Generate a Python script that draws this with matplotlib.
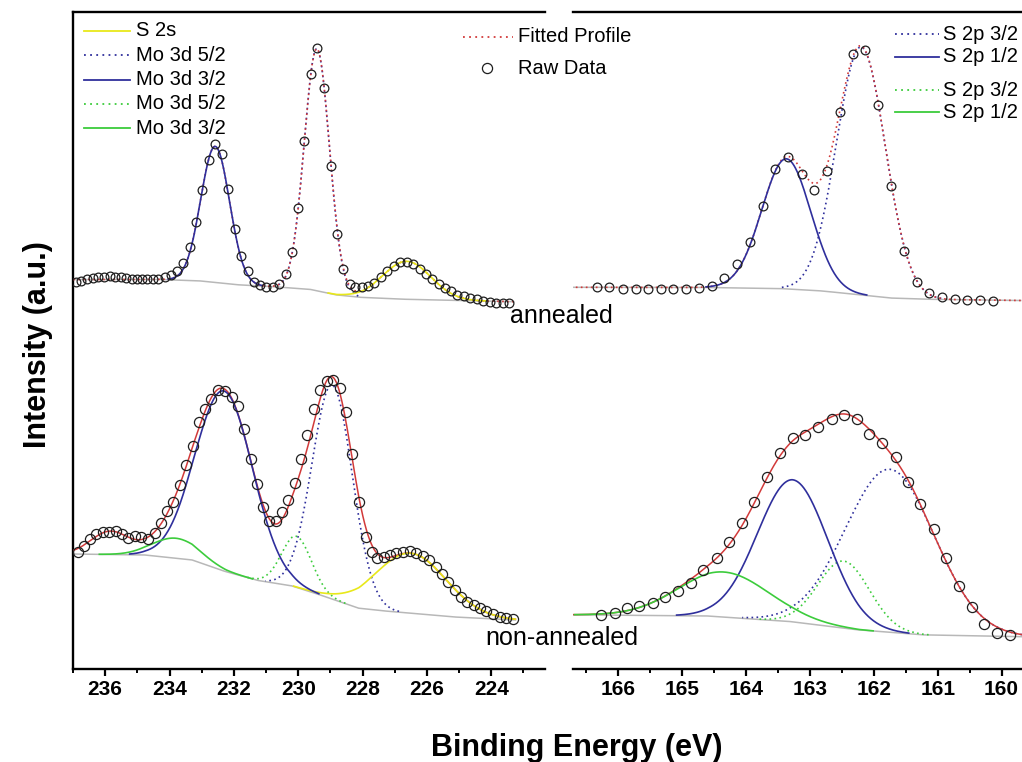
import numpy as np
import matplotlib
matplotlib.use("Agg")
import matplotlib.pyplot as plt
from matplotlib.lines import Line2D
from matplotlib.ticker import MultipleLocator

plt.rcParams['font.family'] = ['Liberation Sans', 'DejaVu Sans']

# ---------------------------------------------------------------- data
# annealed, Mo 3d / S 2s region (raw data)
ann_mo_E = [236.91, 236.74, 236.55, 236.37, 236.21, 236.03, 235.86, 235.69, 235.51, 235.36,
            235.18, 235.00, 234.84, 234.69, 234.51, 234.35, 234.14, 233.95, 233.77, 233.58,
            233.36, 233.17, 232.98, 232.77, 232.58, 232.38, 232.17, 231.97, 231.78, 231.57,
            231.36, 231.18, 230.99, 230.79, 230.60, 230.39, 230.18, 230.01, 229.81, 229.60,
            229.41, 229.20, 228.99, 228.80, 228.61, 228.40, 228.23, 228.02, 227.82, 227.63,
            227.43, 227.23, 227.03, 226.83, 226.62, 226.43, 226.23, 226.03, 225.84, 225.63,
            225.45, 225.26, 225.06, 224.86, 224.66, 224.45, 224.25, 224.05, 223.85, 223.64,
            223.44]
ann_mo_I = [387.3, 388.3, 389.7, 391.0, 392.0, 392.3, 393.0, 392.3, 392.3, 391.3,
            390.3, 389.7, 389.7, 389.7, 389.7, 390.3, 391.7, 394.3, 398.3, 406.3,
            421.7, 447.0, 479.3, 509.3, 525.0, 515.0, 480.0, 440.3, 413.0, 398.3,
            387.3, 383.7, 382.3, 382.3, 384.7, 394.7, 416.7, 461.3, 527.7, 595.0,
            620.7, 580.7, 502.7, 434.7, 399.7, 385.0, 381.7, 382.3, 383.0, 386.3,
            391.7, 398.3, 403.0, 407.0, 407.3, 405.0, 400.3, 394.7, 389.7, 385.0,
            381.3, 378.3, 374.3, 373.0, 371.0, 369.7, 368.3, 367.0, 366.3, 365.7,
            365.7]
ann_mo_bg_E = [237.0, 234.2, 233.0, 231.8, 230.6, 229.6, 228.8, 228.0, 226.5, 223.3]
ann_mo_bg_I = [389.5, 389.5, 388.0, 384.0, 382.0, 379.5, 374.0, 371.5, 369.5, 367.3]
ann_mo_names = ['S 2s', 'Mo 3d 5/2', 'Mo 3d 3/2']
ann_mo_centers = [226.62, 229.42, 232.58]
ann_mo_heights = [38, 242, 136]
ann_mo_fwhm = [1.75, 0.92, 1.05]

# annealed, S 2p region (raw data)
ann_s_E = [166.34, 166.14, 165.93, 165.73, 165.54, 165.34, 165.14, 164.94, 164.73, 164.54,
           164.34, 164.14, 163.94, 163.73, 163.54, 163.34, 163.13, 162.93, 162.73, 162.53,
           162.33, 162.14, 161.93, 161.73, 161.53, 161.33, 161.14, 160.93, 160.73, 160.54,
           160.33, 160.14]
ann_s_I = [381.7, 381.7, 380.3, 379.7, 379.7, 379.7, 379.7, 380.3, 381.0, 383.0,
           391.3, 404.7, 427.0, 463.0, 500.3, 512.3, 495.0, 479.0, 498.0, 556.7,
           615.0, 619.0, 563.7, 482.7, 417.7, 387.3, 375.7, 371.7, 369.7, 369.0,
           369.0, 368.3]
ann_s_bg_E = [166.7, 164.5, 163.4, 162.8, 162.2, 161.7, 161.0, 159.7]
ann_s_bg_I = [381.7, 381.5, 380.3, 378.0, 374.0, 370.8, 369.5, 368.5]
ann_s_names = ['S 2p 3/2', 'S 2p 1/2']
ann_s_centers = [162.20, 163.37]
ann_s_heights = [248, 130]
ann_s_fwhm = [0.90, 0.90]

# non-annealed, Mo 3d / S 2s region (raw data)
non_mo_E = [236.86, 236.65, 236.47, 236.27, 236.08, 235.88, 235.67, 235.48, 235.28, 235.07,
            234.88, 234.67, 234.46, 234.27, 234.08, 233.89, 233.68, 233.48, 233.28, 233.08,
            232.90, 232.70, 232.48, 232.27, 232.07, 231.86, 231.67, 231.48, 231.28, 231.09,
            230.91, 230.70, 230.51, 230.31, 230.11, 229.90, 229.72, 229.52, 229.31, 229.12,
            228.91, 228.70, 228.51, 228.32, 228.11, 227.90, 227.72, 227.54, 227.34, 227.16,
            226.95, 226.73, 226.54, 226.33, 226.12, 225.94, 225.73, 225.52, 225.34, 225.13,
            224.94, 224.75, 224.54, 224.34, 224.15, 223.94, 223.74, 223.54, 223.33]
non_mo_I = [117.3, 123.0, 129.7, 135.0, 136.7, 137.3, 138.0, 135.0, 130.7, 133.0,
            132.3, 130.0, 135.7, 146.3, 158.0, 167.0, 184.0, 204.3, 223.3, 247.3,
            260.0, 270.0, 279.0, 278.3, 272.3, 263.3, 239.7, 210.3, 184.7, 161.7,
            148.3, 148.3, 156.7, 169.0, 186.0, 209.7, 234.0, 259.7, 279.0, 288.3,
            289.0, 280.7, 257.3, 215.0, 166.7, 132.3, 117.0, 110.7, 112.3, 114.3,
            116.3, 117.0, 117.7, 115.7, 113.0, 109.0, 101.7, 95.0, 87.3, 79.0,
            72.3, 67.0, 63.7, 60.7, 58.0, 55.0, 52.3, 50.7, 49.7]
non_mo_bg_E = [237.02, 234.74, 233.29, 232.25, 231.22, 230.18, 229.15, 228.11, 227.08, 225.01, 223.25]
non_mo_bg_I = [115.0, 114.0, 109.0, 97.3, 88.3, 83.0, 72.3, 60.7, 57.3, 51.7, 49.0]
non_mo_names = ['S 2s', 'Mo 3d 5/2', 'Mo 3d 3/2', 'Mo 3d 5/2 (ii)', 'Mo 3d 3/2 (ii)', 'shoulder']
non_mo_centers = [226.50, 228.94, 232.30, 230.05, 233.80, 235.85]
non_mo_heights = [60, 214, 180, 51, 20, 23]
non_mo_fwhm = [2.60, 1.48, 2.10, 1.09, 1.70, 1.40]

# non-annealed, S 2p region (raw data)
non_s_E = [166.27, 166.06, 165.87, 165.67, 165.46, 165.27, 165.06, 164.86, 164.67, 164.46,
           164.27, 164.07, 163.87, 163.67, 163.47, 163.26, 163.07, 162.87, 162.66, 162.47,
           162.26, 162.07, 161.87, 161.66, 161.47, 161.27, 161.06, 160.87, 160.67, 160.46,
           160.27, 160.07, 159.87]
non_s_I = [54.0, 56.3, 60.7, 63.0, 65.7, 72.3, 78.3, 85.7, 99.0, 110.7,
           127.3, 146.3, 167.3, 192.3, 215.7, 230.7, 234.0, 241.7, 249.7, 254.0,
           249.7, 235.0, 226.3, 211.7, 187.3, 165.0, 139.7, 110.7, 83.0, 62.3,
           45.0, 36.3, 34.0]
non_s_bg_E = [166.72, 166.35, 164.58, 163.28, 162.23, 161.19, 159.68]
non_s_bg_I = [54.2, 54.0, 53.0, 47.3, 39.0, 34.0, 32.3]
non_s_names = ['S 2p 3/2', 'S 2p 1/2', 'S 2p 3/2 (ii)', 'S 2p 1/2 (ii)']
non_s_centers = [161.75, 163.27, 162.47, 164.35]
non_s_heights = [163, 142, 67, 45]
non_s_fwhm = [1.65, 1.30, 0.95, 1.67]

left_ticks = [236, 234, 232, 230, 228, 226, 224]
right_ticks = [166, 165, 164, 163, 162, 161, 160]

left_legend = ['S 2s', 'Mo 3d 5/2', 'Mo 3d 3/2', 'Mo 3d 5/2', 'Mo 3d 3/2']
right_legend = ['S 2p 3/2', 'S 2p 1/2', 'S 2p 3/2', 'S 2p 1/2']
mid_legend = ['Fitted Profile', 'Raw Data']

# ---------------------------------------------------------------- style
NAVY = '#2f2f9c'
GREEN = '#3ccc3c'
YELLOW = '#e8e81a'
GRAY = '#b8b8b8'
RED = '#d23a3a'
DOT = (0, (1, 2))

STYLE = {
    'S 2s': (YELLOW, '-'),
    'Mo 3d 5/2': (NAVY, DOT), 'Mo 3d 3/2': (NAVY, '-'),
    'Mo 3d 5/2 (ii)': (GREEN, DOT), 'Mo 3d 3/2 (ii)': (GREEN, '-'),
    'S 2p 3/2': (NAVY, DOT), 'S 2p 1/2': (NAVY, '-'),
    'S 2p 3/2 (ii)': (GREEN, DOT), 'S 2p 1/2 (ii)': (GREEN, '-'),
    'shoulder': (None, None),
}

W, H = 1022, 762
fig = plt.figure(figsize=(W / 100, H / 100), dpi=100)


def fx(px):
    return px / W


def fy(py):
    return 1 - py / H


def gauss(E, c, h, fwhm):
    s = fwhm / 2.3548
    return h * np.exp(-0.5 * ((E - c) / s) ** 2)


def draw_set(ax, E_raw, I_raw, bgE, bgI, names, cs, hs, ws, fit_ls, ms):
    bgE = np.asarray(bgE, float)
    bgI = np.asarray(bgI, float)
    order = np.argsort(bgE)
    Ef = np.linspace(bgE.min(), bgE.max(), 1200)
    bg = np.interp(Ef, bgE[order], bgI[order])
    ax.plot(Ef, bg, color=GRAY, lw=1.1, zorder=1)
    total = bg.copy()
    comps = []
    for n, c, h, w in zip(names, cs, hs, ws):
        g = gauss(Ef, c, h, w)
        total += g
        comps.append((n, c, w, g))
    # dotted components first, then fit, then solid components
    for n, c, w, g in comps:
        col, ls = STYLE[n]
        if col is None or ls == '-':
            continue
        s = w / 2.3548
        m = np.abs(Ef - c) < 3.3 * s
        ax.plot(Ef[m], (bg + g)[m], color=col, ls=ls, lw=1.2, zorder=2)
    ax.plot(Ef, total, color=RED, ls=fit_ls, lw=1.1 if fit_ls == '-' else 1.2, zorder=3)
    for n, c, w, g in comps:
        col, ls = STYLE[n]
        if col is None or ls != '-':
            continue
        s = w / 2.3548
        m = np.abs(Ef - c) < 3.3 * s
        ax.plot(Ef[m], (bg + g)[m], color=col, ls=ls, lw=1.2, zorder=4)
    ax.plot(E_raw, I_raw, 'o', mfc='none', mec='#1e1e1e', ms=ms, mew=0.9, zorder=5)


axL = fig.add_axes([fx(73), fy(669), fx(545) - fx(73), fy(12) - fy(669)])
axR = fig.add_axes([fx(573), fy(669), fx(1022) - fx(573), fy(12) - fy(669)])

draw_set(axL, ann_mo_E, ann_mo_I, ann_mo_bg_E, ann_mo_bg_I, ann_mo_names,
         ann_mo_centers, ann_mo_heights, ann_mo_fwhm, DOT, 6.3)
draw_set(axL, non_mo_E, non_mo_I, non_mo_bg_E, non_mo_bg_I, non_mo_names,
         non_mo_centers, non_mo_heights, non_mo_fwhm, '-', 7.3)
draw_set(axR, ann_s_E, ann_s_I, ann_s_bg_E, ann_s_bg_I, ann_s_names,
         ann_s_centers, ann_s_heights, ann_s_fwhm, DOT, 6.3)
draw_set(axR, non_s_E, non_s_I, non_s_bg_E, non_s_bg_I, non_s_names,
         non_s_centers, non_s_heights, non_s_fwhm, '-', 7.3)

axL.set_xlim(237.0, 222.33)
axR.set_xlim(166.71, 159.68)
for ax in (axL, axR):
    ax.set_ylim(0, 657)
    ax.set_yticks([])
    ax.spines['right'].set_visible(False)
    for sp in ax.spines.values():
        sp.set_linewidth(1.7)
    ax.tick_params(axis='x', which='major', direction='out', length=5, width=1.6, pad=3)
    ax.tick_params(axis='x', which='minor', direction='out', length=3.2, width=1.4)
axR.spines['left'].set_visible(False)

axL.set_xticks(left_ticks)
axL.set_xticklabels([str(t) for t in left_ticks], fontsize=15, fontweight='bold')
axL.xaxis.set_minor_locator(MultipleLocator(1))
axR.set_xticks(right_ticks)
axR.set_xticklabels([str(t) for t in right_ticks], fontsize=15, fontweight='bold')
axR.xaxis.set_minor_locator(MultipleLocator(0.5))

# axis titles
fig.text(fx(38), fy(345), 'Intensity (a.u.)', rotation=90, ha='center', va='center',
         fontsize=22, fontweight='bold')
fig.text(fx(577), fy(748), 'Binding Energy (eV)', ha='center', va='center',
         fontsize=22, fontweight='bold')
fig.text(fx(561), fy(316), 'annealed', ha='center', va='center', fontsize=18)
fig.text(fx(562), fy(638), 'non-annealed', ha='center', va='center', fontsize=18)


def fig_line(x0, x1, y, **kw):
    fig.add_artist(Line2D([fx(x0), fx(x1)], [fy(y), fy(y)], transform=fig.transFigure, **kw))


LEG_DOT = (0, (1, 2.4))
# left legend
left_styles = [(YELLOW, '-'), (NAVY, LEG_DOT), (NAVY, '-'), (GREEN, LEG_DOT), (GREEN, '-')]
for i, (lab, (col, ls)) in enumerate(zip(left_legend, left_styles)):
    y = 31 + i * 24.3
    fig_line(84, 130, y, color=col, ls=ls, lw=1.3)
    fig.text(fx(136), fy(y), lab, ha='left', va='center', fontsize=14.5)

# middle legend
fig_line(463, 513, 37, color=RED, ls=LEG_DOT, lw=1.3)
fig.text(fx(518), fy(37), mid_legend[0], ha='left', va='center', fontsize=14.5)
fig.add_artist(Line2D([fx(487)], [fy(68)], transform=fig.transFigure, marker='o',
                      mfc='none', mec='#1e1e1e', ms=7.3, mew=0.9, ls='none'))
fig.text(fx(518), fy(68), mid_legend[1], ha='left', va='center', fontsize=14.5)

# right legend
right_styles = [(NAVY, LEG_DOT), (NAVY, '-'), (GREEN, LEG_DOT), (GREEN, '-')]
right_y = [34, 57, 90, 112]
for lab, (col, ls), y in zip(right_legend, right_styles, right_y):
    fig_line(895, 939, y, color=col, ls=ls, lw=1.3)
    fig.text(fx(943), fy(y), lab, ha='left', va='center', fontsize=14.5)

fig.savefig('out.png', dpi=100)
